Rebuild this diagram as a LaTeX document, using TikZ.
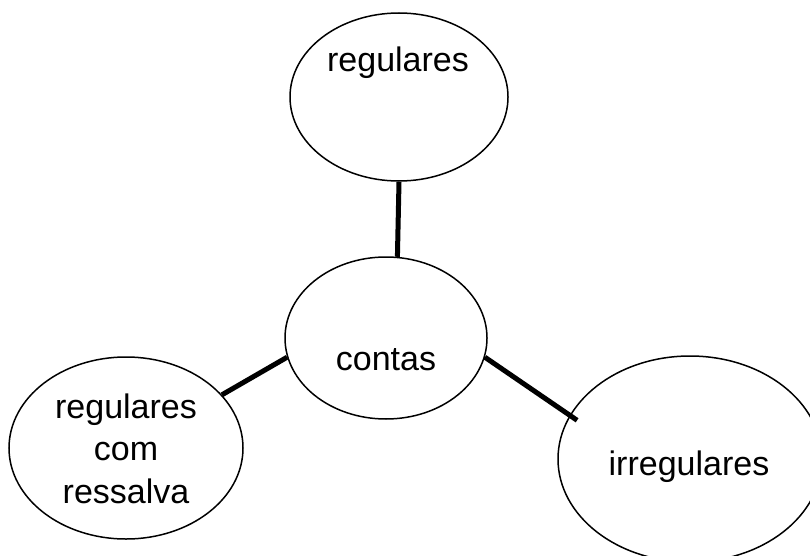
\documentclass[tikz,border=0pt]{standalone}
\usepackage{fontspec}
\setmainfont{Liberation Sans}
\usetikzlibrary{shapes.geometric}
\begin{document}
\begin{tikzpicture}[x=1pt,y=-1pt,
 ell/.style={draw, ellipse, line width=1.5pt, inner sep=0pt},
 lbl/.style={font=\fontsize{34}{42}\selectfont, inner sep=0pt, anchor=base},
 conn/.style={line width=5pt}]
\useasboundingbox (0,0) rectangle (810,556);
\node[ell, minimum width=218pt, minimum height=168pt] (top) at (399,97) {};
\node[ell, minimum width=202pt, minimum height=162pt] (contas) at (386,338) {};
\node[ell, minimum width=234pt, minimum height=182pt] (left) at (126,448) {};
\node[ell, minimum width=264pt, minimum height=206pt] (right) at (690,459) {};
\node[lbl] (t1) at (398,72) {regulares};
\node[lbl] (t2) at (386,370) {contas};
\node[lbl] (t3) at (689,475) {irregulares};
\node[lbl] (l1) at (126,418) {regulares};
\node[lbl] (l2) at (126,460) {com};
\node[lbl] (l3) at (126,503) {ressalva};
\draw[conn] (top.south) -- (contas.82);
\draw[conn] (left.29) -- (contas.-169);
\draw[conn, shorten >=-9pt] (contas.-11) -- (right.160);
\end{tikzpicture}
\end{document}
